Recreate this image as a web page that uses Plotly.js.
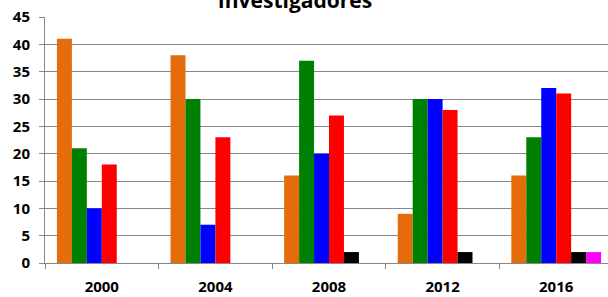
<!DOCTYPE html>
<html>
<head>
<meta charset="utf-8">
<script src="https://cdn.plot.ly/plotly-3.0.1.min.js"></script>
<style>
html,body{margin:0;padding:0;overflow:hidden;background:#fff;}
#chart{width:613px;height:297px;}
</style>
</head>
<body>
<div id="chart"></div>
<script>
const years = ['2000', '2004', '2008', '2012', '2016'];
const seriesNames = ['Serie 1', 'Serie 2', 'Serie 3', 'Serie 4', 'Serie 5', 'Serie 6'];
const serie1 = [41, 38, 16, 9, 16];
const serie2 = [21, 30, 37, 30, 23];
const serie3 = [10, 7, 20, 30, 32];
const serie4 = [18, 23, 27, 28, 31];
const serie5 = [0, 0, 2, 2, 2];
const serie6 = [0, 0, 0, 0, 2];
const yTicks = [0, 5, 10, 15, 20, 25, 30, 35, 40, 45];

const allSeries = [serie1, serie2, serie3, serie4, serie5, serie6];
const colors = ['#E46C0A', '#008000', '#0000FF', '#FF0000', '#000000', '#FF00FF'];

const traces = allSeries.map((vals, i) => ({
  type: 'bar',
  x: years,
  y: vals,
  name: seriesNames[i],
  marker: {color: colors[i], line: {width: 0}},
  hoverinfo: 'x+y+name'
}));

const gray = '#888888';
const tickFont = {family: 'Open Sans, Liberation Sans, sans-serif', size: 15, color: '#000000', weight: 'bold'};

const layout = {
  width: 613,
  height: 297,
  margin: {l: 45, r: 0, t: 17, b: 34, pad: 0},
  paper_bgcolor: '#ffffff',
  plot_bgcolor: '#ffffff',
  barmode: 'group',
  bargap: 0.21,
  bargroupgap: 0,
  showlegend: false,
  title: {
    text: '<b>Investigadores</b>',
    font: {family: 'Open Sans, Liberation Sans, sans-serif', size: 21, color: '#000000'},
    x: 295 / 613,
    xref: 'container',
    xanchor: 'center',
    y: 1 - 8 / 297,
    yref: 'container',
    yanchor: 'bottom'
  },
  xaxis: {
    type: 'category',
    showline: true,
    linecolor: gray,
    linewidth: 1,
    ticks: 'outside',
    tickson: 'boundaries',
    ticklen: 5,
    tickcolor: gray,
    tickwidth: 1,
    showgrid: false,
    tickfont: tickFont,
    ticklabelstandoff: 10,
    fixedrange: true
  },
  yaxis: {
    range: [0, 45],
    tickvals: yTicks,
    ticktext: yTicks.map(String),
    showline: true,
    linecolor: gray,
    linewidth: 1,
    ticks: 'outside',
    ticklen: 5,
    tickcolor: gray,
    tickwidth: 1,
    showgrid: true,
    gridcolor: gray,
    gridwidth: 1,
    zeroline: false,
    tickfont: tickFont,
    ticklabelstandoff: 6,
    fixedrange: true
  }
};

Plotly.newPlot('chart', traces, layout, {displayModeBar: false, staticPlot: true});
</script>
</body>
</html>
